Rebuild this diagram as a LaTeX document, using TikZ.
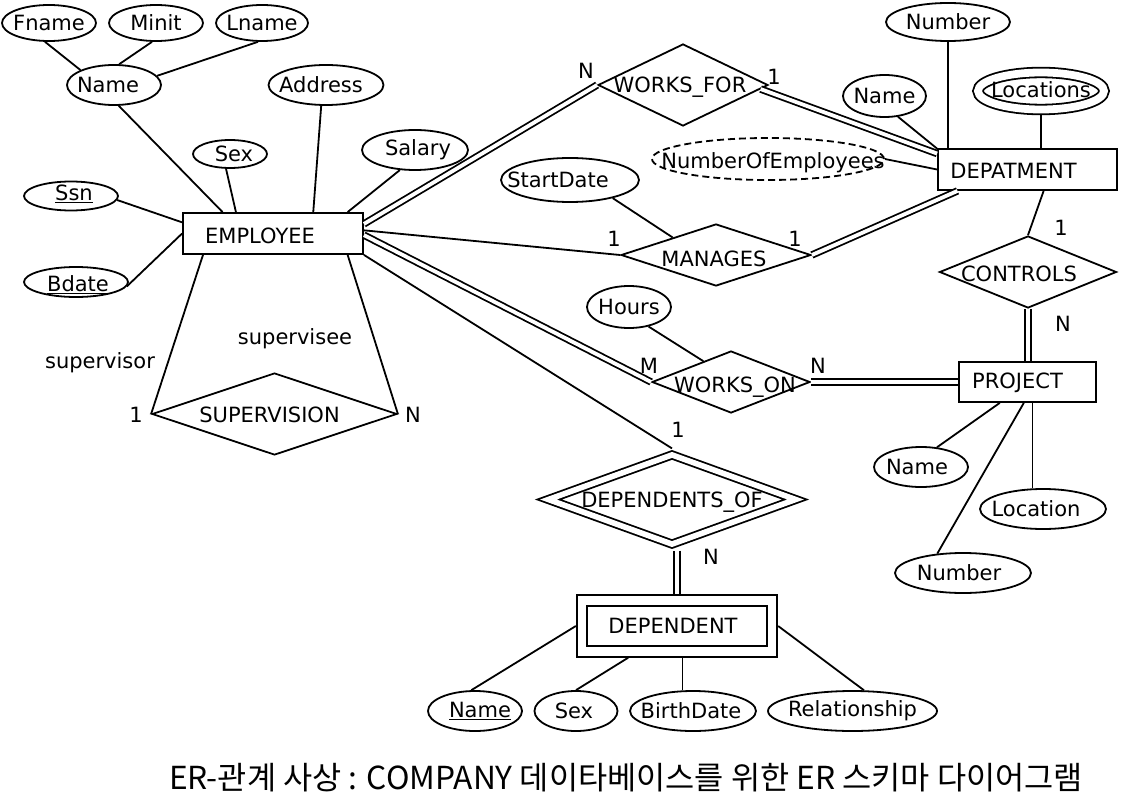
\documentclass[tikz,border=0pt]{standalone}
\usepackage{fontspec}
\setmainfont{DejaVu Sans}
\newfontfamily\krfont{Noto Sans CJK KR}
\usetikzlibrary{shapes.geometric}
\begin{document}
\begin{tikzpicture}[x=1pt,y=-1pt,line width=1.8pt,
  every node/.style={font=\fontsize{21}{25}\selectfont},
  ent/.style={draw,rectangle,inner sep=0pt},
  attr/.style={draw,ellipse,inner sep=0pt},
  rel/.style={draw,diamond,inner sep=0pt},
  dbl/.style={double,double distance=3.8pt},
  card/.style={inner sep=0pt}]
\fill[white] (0,0) rectangle (1123,802);
\useasboundingbox (0,0) rectangle (1123,802);

% entities
\node[ent,minimum width=180pt,minimum height=41pt,label={[xshift=-13pt,yshift=-2pt]center:EMPLOYEE}] (emp) at (273,233.5) {};
\node[ent,minimum width=179pt,minimum height=41pt,label={[xshift=-14pt,yshift=-1pt]center:DEPATMENT}] (dept) at (1027.5,169.5) {};
\node[ent,minimum width=137pt,minimum height=40pt,label={[xshift=-10pt,yshift=-1pt]center:PROJECT}] (proj) at (1027.5,382) {};
\node[ent,double,double distance=8.7pt,outer sep=6.15pt,minimum width=190pt,minimum height=51pt,label={[xshift=-4pt]center:DEPENDENT}] (dep) at (677,626) {};

% relationships
\node[rel,minimum width=170pt,minimum height=82pt,label={[xshift=-3pt,yshift=-2pt]center:WORKS\_FOR}] (wf) at (683,85) {};
\node[rel,minimum width=190pt,minimum height=62pt,label={[xshift=-2pt,yshift=-4pt]center:MANAGES}] (man) at (716,255) {};
\node[rel,minimum width=177pt,minimum height=72pt,label={[xshift=-9pt,yshift=-2pt]center:CONTROLS}] (ctrl) at (1028,272) {};
\node[rel,minimum width=158pt,minimum height=62pt,label={[xshift=4pt,yshift=-5pt]center:WORKS\_ON}] (won) at (731,382) {};
\node[rel,minimum width=245pt,minimum height=82pt,label={[xshift=-5pt,yshift=-1pt]center:SUPERVISION}] (sup) at (274.5,414) {};
\node[rel,double,double distance=5.6pt,outer sep=4.6pt,minimum width=251pt,minimum height=93pt,label={[yshift=-3pt]center:DEPENDENTS\_OF}] (dof) at (672,499.5) {};

% employee attributes
\node[attr,minimum width=94pt,minimum height=36pt,label=center:Fname] (fname) at (49,23) {};
\node[attr,minimum width=94pt,minimum height=36pt,label=center:Minit] (minit) at (156,23) {};
\node[attr,minimum width=92pt,minimum height=36pt,label=center:Lname] (lname) at (262,23) {};
\node[attr,minimum width=94pt,minimum height=40pt,label={[xshift=-6pt]center:Name}] (ename) at (114,85) {};
\node[attr,minimum width=115pt,minimum height=40pt,label={[xshift=-5pt]center:Address}] (addr) at (326,85) {};
\node[attr,minimum width=74pt,minimum height=28pt,label={[xshift=4pt]center:Sex}] (esex) at (230,154) {};
\node[attr,minimum width=106pt,minimum height=40pt,label={[xshift=3pt]center:Salary}] (sal) at (415,150) {};
\node[attr,minimum width=94pt,minimum height=29pt,label={[xshift=3pt,yshift=2pt]center:\underline{Ssn}}] (ssn) at (71,196) {};
\node[attr,minimum width=104pt,minimum height=30pt,label={[xshift=2pt,yshift=-3pt]center:\underline{Bdate}}] (bdate) at (76,282) {};

% department attributes
\node[attr,minimum width=124pt,minimum height=38pt,label=center:Number] (dnum) at (948,22) {};
\node[attr,minimum width=83pt,minimum height=42pt,label=center:Name] (dname) at (884.5,96) {};
\node[attr,double,double distance=7.8pt,outer sep=5.7pt,minimum width=126pt,minimum height=37pt,label={[yshift=1pt]center:Locations}] (locs) at (1041,91) {};
\node[attr,dash pattern=on 7pt off 4pt,minimum width=232pt,minimum height=42pt,label={[xshift=5pt,yshift=-4pt]center:NumberOfEmployees}] (noe) at (768,159) {};

% relationship attributes
\node[attr,minimum width=138pt,minimum height=44pt,label={[xshift=-12pt]center:StartDate}] (sd) at (570,180) {};
\node[attr,minimum width=84pt,minimum height=42pt,label=center:Hours] (hours) at (629,307) {};

% project attributes
\node[attr,minimum width=94pt,minimum height=40pt,label={[xshift=-4pt]center:Name}] (pname) at (921,467) {};
\node[attr,minimum width=126pt,minimum height=40pt,label={[xshift=-7pt]center:Location}] (ploc) at (1043,509) {};
\node[attr,minimum width=136pt,minimum height=40pt,label={[xshift=-4pt]center:Number}] (pnum) at (963,573) {};

% dependent attributes
\node[attr,minimum width=94pt,minimum height=40pt,label={[xshift=5pt]center:\underline{Name}}] (dname2) at (475,711) {};
\node[attr,minimum width=83pt,minimum height=40pt,label={[xshift=-2pt]center:Sex}] (dsex) at (576,711) {};
\node[attr,minimum width=126pt,minimum height=40pt,label={[xshift=-2pt]center:BirthDate}] (dbd) at (693,711) {};
\node[attr,minimum width=169pt,minimum height=40pt,label=center:Relationship] (drel) at (852.5,711) {};

% connectors
\draw (fname.-102) -- (ename.156);
\draw (minit.-102) -- (ename.76);
\draw (lname.-102) -- (ename.12);
\draw (ename.-77) -- (emp.157);
\draw (esex.-105) -- (emp.150);
\draw (addr.-103) -- (emp.28);
\draw (sal.-127) -- (emp.16);
\draw (ssn.-5) -- (emp.173);
\draw (bdate.-5) -- (emp.west);
\draw (emp.-163.5) -- (sup.west);
\draw (emp.-16) -- (sup.east);
\draw[dbl] (emp.6) -- (wf.west);
\draw (emp.2) -- (man.west);
\draw[dbl] (emp.-1) -- (won.west);
\draw (emp.south east) -- (dof.north);
\draw[dbl] (wf.-3) -- (dept.170);
\draw (noe.east) -- (dept.west);
\draw (dname.-57) -- (dept.167);
\draw (dnum.south) -- (dnum.south |- dept.north);
\draw (locs.south) -- (locs.south |- dept.north);
\draw (sd.-23) -- (man.158);
\draw[dbl] (man.east) -- (dept.-163);
\draw (dept.-53) -- (ctrl.north);
\draw[dbl] (ctrl.south) -- (ctrl.south |- proj.north);
\draw (hours.-45) -- (won.143);
\draw[dbl] (won.east) -- (won.east -| proj.west);
\draw (pname.51) -- (proj.-143);
\draw (ploc.117) -- (ploc.117 |- proj.south);
\draw (pnum.143) -- (proj.-100);
\draw[dbl] (dep.north |- dof.south) -- (dep.north);
\draw (dname2.100) -- (dep.west);
\draw (dsex.north) -- (dep.-147);
\draw (dbd.117) -- (dbd.117 |- dep.south);
\draw (drel.61) -- (dep.east);

% cardinalities and role names
\node[card] (c1) at (586,71) {N};
\node[card] (c2) at (774,77) {1};
\node[card] (c3) at (614,239) {1};
\node[card] (c4) at (795,239) {1};
\node[card] (c5) at (1061,228) {1};
\node[card] (c6) at (1063,324) {N};
\node[card] (c7) at (649,366) {M};
\node[card] (c8) at (818,366) {N};
\node[card] (c9) at (678,430) {1};
\node[card] (c10) at (711,557) {N};
\node[card] (c11) at (136,415) {1};
\node[card] (c12) at (413,415) {N};
\node[card] (r1) at (100,363) {supervisor};
\node[card] (r2) at (295,339) {supervisee};

% caption
\node[inner sep=0pt,font=\krfont\fontsize{31.7}{36}\selectfont] (cap) at (626,778) {ER-관계 사상 : COMPANY 데이타베이스를 위한 ER 스키마 다이어그램};
\end{tikzpicture}
\end{document}
